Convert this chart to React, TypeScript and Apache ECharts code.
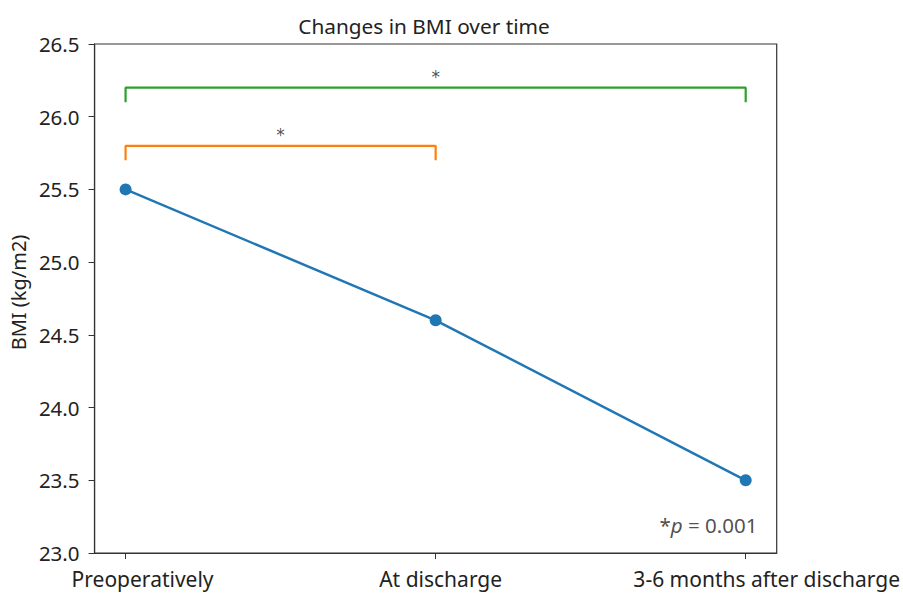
import React, { useEffect, useRef } from "react";
import * as echarts from "echarts";

const categories = ["Preoperatively", "At discharge", "3-6 months after discharge"];
const bmiValues = [25.5, 24.6, 23.5];
const yTicks = [23.0, 23.5, 24.0, 24.5, 25.0, 25.5, 26.0, 26.5];
// bracket: [fromIndex, toIndex, height, drop]
const bracketOrange = { from: 0, to: 1, y: 25.8, drop: 0.1 };
const bracketGreen = { from: 0, to: 2, y: 26.2, drop: 0.1 };
const pNote = { x: 2.038, y: 23.19 };

const FONT = "Noto Sans";
const labelShift = [34, 10, 42];

function bracketData(b: { from: number; to: number; y: number; drop: number }) {
  return [
    [b.from, b.y - b.drop],
    [b.from, b.y],
    [b.to, b.y],
    [b.to, b.y - b.drop],
  ];
}

export default function App() {
  const ref = useRef<HTMLDivElement>(null);
  useEffect(() => {
    document.body.style.margin = "0";
    const chart = echarts.init(ref.current!, null, { renderer: "svg" });
    const rich: any = {};
    labelShift.forEach((s, i) => {
      rich["c" + i] = { fontFamily: FONT, fontSize: 21, color: "#222", padding: [0, 0, 0, s] };
    });
    const option: any = {
      animation: false,
      backgroundColor: "#ffffff",
      textStyle: { fontFamily: FONT },
      title: {
        text: "Changes in BMI over time",
        left: 419,
        top: 10,
        textAlign: "center",
        textStyle: { fontFamily: FONT, fontSize: 20.8, fontWeight: "normal", color: "#222" },
      },
      grid: {
        left: 94,
        top: 44,
        width: 684,
        height: 509,
        show: true,
        borderColor: "#333",
        borderWidth: 1.2,
        backgroundColor: "transparent",
      },
      xAxis: {
        type: "value",
        min: -0.1,
        max: 2.1,
        splitLine: { show: false },
        axisLine: { show: true, onZero: false, lineStyle: { color: "#333", width: 1.2 } },
        axisTick: { show: true, customValues: [0, 1, 2], length: 6, inside: false, lineStyle: { color: "#333" } },
        axisLabel: {
          customValues: [0, 1, 2],
          formatter: (v: number) => {
            const i = Math.round(v);
            return categories[i] ? `{c${i}|${categories[i]}}` : "";
          },
          rich,
          fontFamily: FONT,
          fontSize: 21,
          color: "#222",
          margin: 15,
        },
      },
      yAxis: {
        type: "value",
        min: 23,
        max: 26.5,
        interval: 0.5,
        name: "BMI (kg/m2)",
        nameLocation: "middle",
        nameGap: 64,
        nameTextStyle: { fontFamily: FONT, fontSize: 20, color: "#222", padding: [0, 0, 0, 12] },
        splitLine: { show: false },
        axisLine: { show: true, onZero: false, lineStyle: { color: "#333", width: 1.2 } },
        axisTick: { show: true, length: 6, lineStyle: { color: "#333" } },
        axisLabel: {
          formatter: (v: number) => (yTicks.includes(v) ? v.toFixed(1) : ""),
          fontFamily: FONT,
          fontSize: 20.5,
          color: "#222",
          margin: 15,
        },
      },
      series: [
        {
          type: "line",
          data: bmiValues.map((v, i) => [i, v]),
          color: "#1f77b4",
          lineStyle: { width: 2.5, color: "#1f77b4" },
          symbol: "circle",
          symbolSize: 12,
          itemStyle: { color: "#1f77b4" },
          z: 3,
        },
        {
          type: "line",
          data: bracketData(bracketOrange),
          symbol: "none",
          lineStyle: { width: 2.2, color: "#ff7f0e" },
        },
        {
          type: "line",
          data: bracketData(bracketGreen),
          symbol: "none",
          lineStyle: { width: 2.2, color: "#2ca02c" },
        },
        {
          type: "scatter",
          symbolSize: 0,
          data: [
            [(bracketOrange.from + bracketOrange.to) / 2, bracketOrange.y],
            [(bracketGreen.from + bracketGreen.to) / 2, bracketGreen.y],
          ],
          label: {
            show: true,
            position: "top",
            distance: 2,
            formatter: "*",
            fontFamily: "DejaVu Sans",
            fontSize: 17,
            color: "#222",
          },
        },
        {
          type: "scatter",
          symbolSize: 0,
          data: [[pNote.x, pNote.y]],
          label: {
            show: true,
            position: "left",
            distance: 0,
            formatter: "{a|*}{b|p}{a| = 0.001}",
            rich: {
              a: { fontFamily: FONT, fontSize: 20.5, color: "#222" },
              b: { fontFamily: FONT, fontSize: 20.5, color: "#222", fontStyle: "italic" },
            },
          },
        },
      ],
    };
    chart.setOption(option);
    return () => chart.dispose();
  }, []);
  return <div ref={ref} style={{ width: 903, height: 594 }} />;
}
